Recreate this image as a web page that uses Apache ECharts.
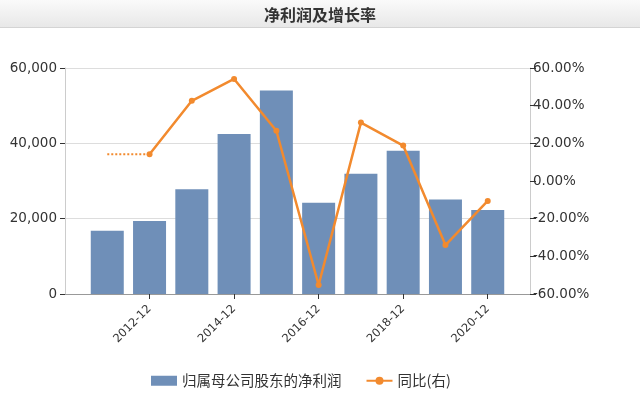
<!DOCTYPE html>
<html><head><meta charset="utf-8">
<script src="https://cdn.jsdelivr.net/npm/echarts@6/dist/echarts.min.js"></script>
<style>html,body{margin:0;padding:0;background:#fff}#c{width:640px;height:408px}</style>
</head><body><div id="c"></div>
<script>
const categories = ['2011-12','2012-12','2013-12','2014-12','2015-12','2016-12','2017-12','2018-12','2019-12','2020-12'];
const netProfit = [16800, 19400, 27800, 42500, 54000, 24200, 31900, 38000, 25100, 22300];
const growth = [null, 14.2, 42.6, 54.2, 26.7, -55.2, 31.0, 18.8, -34.0, -10.6];
const growthStub = [14.2, 14.2, null, null, null, null, null, null, null, null];
const leftTicks = [0, 20000, 40000, 60000];
const rightTicks = [-60, -40, -20, 0, 20, 40, 60];

// pad the axis with one empty slot at each end
const pad = arr => [null, ...arr, null];
const axisCats = ['', ...categories, ''];

const chart = echarts.init(document.getElementById('c'));
const cjk = '"Noto Sans CJK SC", sans-serif';
const num = '"DejaVu Sans", sans-serif';
const showIdx = i => i >= 1 && i <= categories.length && (i - 1) % 2 === 1;
chart.setOption({
  animation: false,
  textStyle: { fontFamily: cjk },
  graphic: [
    { type: 'rect', left: 0, top: 0, z: -1, shape: { width: 640, height: 27 },
      style: { fill: new echarts.graphic.LinearGradient(0, 0, 0, 1, [{offset: 0, color: '#fafafa'}, {offset: 1, color: '#e8e8e8'}]) } },
    { type: 'rect', left: 0, top: 27, z: -1, shape: { width: 640, height: 1 }, style: { fill: '#d4d4d4' } }
  ],
  title: { text: '净利润及增长率', left: 'center', top: 2,
    textStyle: { fontSize: 16, fontWeight: 'bold', color: '#333', fontFamily: cjk } },
  legend: {
    bottom: 15, left: 146, itemGap: 24, itemWidth: 26, itemHeight: 10,
    textStyle: { fontSize: 14.5, color: '#333', fontFamily: cjk },
    data: [
      { name: '归属母公司股东的净利润', icon: 'rect' },
      { name: '同比(右)' }
    ]
  },
  grid: { left: 65, right: 110, top: 68, bottom: 114 },
  xAxis: {
    type: 'category', data: axisCats, boundaryGap: false,
    axisLine: { lineStyle: { color: '#999' } },
    axisTick: { interval: (i) => showIdx(i), length: 5, lineStyle: { color: '#333' } },
    axisLabel: { interval: 0, formatter: (v, i) => showIdx(i) ? v : '', rotate: 45, color: '#333', fontSize: 11.5, fontFamily: num, margin: 13 }
  },
  yAxis: [
    { type: 'value', min: leftTicks[0], max: leftTicks[leftTicks.length-1], interval: 20000,
      axisLine: { show: true, lineStyle: { color: '#ccc' } },
      axisTick: { show: true, length: 5, lineStyle: { color: '#333' } },
      axisLabel: { color: '#333', fontSize: 13.5, fontFamily: num, margin: 8, formatter: v => v.toLocaleString('en-US') },
      splitLine: { lineStyle: { color: '#ddd' } } },
    { type: 'value', min: rightTicks[0], max: rightTicks[rightTicks.length-1], interval: 20, position: 'right',
      axisLine: { show: true, lineStyle: { color: '#ccc' } },
      axisTick: { show: true, length: 6, lineStyle: { color: '#333' } },
      axisLabel: { color: '#333', fontSize: 13.5, fontFamily: num, margin: 3, formatter: v => v.toFixed(2) + '%' },
      splitLine: { show: false } }
  ],
  series: [
    { name: '归属母公司股东的净利润', type: 'bar', data: pad(netProfit), barWidth: 33,
      itemStyle: { color: '#6f8fb8' } },
    { name: '同比(右)', type: 'line', yAxisIndex: 1, data: pad(growth),
      symbol: 'circle', symbolSize: 6, connectNulls: false,
      lineStyle: { color: '#f28a2e', width: 2.5 }, itemStyle: { color: '#f28a2e' } },
    { name: 'stub', type: 'line', yAxisIndex: 1, data: pad(growthStub), symbol: 'none',
      lineStyle: { color: '#f28a2e', width: 2, type: [2, 2] } }
  ]
});
</script></body></html>
